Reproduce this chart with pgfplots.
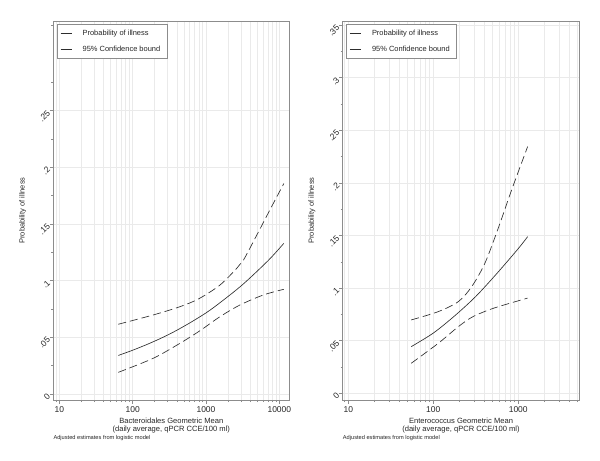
\documentclass[border=0pt]{standalone}
\usepackage{fontspec}
\setmainfont{Liberation Sans}
\usepackage{pgfplots}
\pgfplotsset{compat=1.18}
\definecolor{framegray}{RGB}{140,140,140}
\definecolor{gridgray}{RGB}{234,234,234}
\definecolor{curve}{RGB}{45,45,45}

\pgfplotsset{
 panel/.style={
  scale only axis,
  height=379bp,
  axis line style={framegray, line width=0.6bp},
  every tick/.style={framegray, line width=0.5bp},
  tick align=outside, xtick pos=bottom, ytick pos=left,
  major tick length=3.5bp, minor tick length=2bp,
  xmajorgrids, xminorgrids, ymajorgrids,
  major grid style={gridgray, line width=0.5bp},
  minor grid style={gridgray, line width=0.5bp},
  /pgf/number format/assume math mode=true,
  xtick={10,100,1000,10000},
  xticklabels={10,100,1000,10000},
  xticklabel style={font=\fontsize{8.5}{10}\selectfont, inner sep=0pt, yshift=-3bp, text=black!85},
  yticklabel style={font=\fontsize{8.5}{10}\selectfont, rotate=45, anchor=east, inner sep=1.5bp, text=black!85},
  xlabel style={font=\fontsize{7.6}{8}\selectfont, align=center, at={(axis description cs:0.5,0)}, anchor=north, yshift=-18bp, inner sep=0pt, text=black!85},
  ylabel style={font=\fontsize{7.5}{9}\selectfont, at={(axis description cs:0,0.5)}, anchor=south, yshift=27bp, inner sep=0pt, text=black!85},
  ylabel={Probability of illness},
  legend style={at={(0,1)}, anchor=north west, xshift=3.4bp, yshift=-3.3bp,
    draw=framegray, line width=0.5bp, fill=white,
    font=\fontsize{7.5}{9}\selectfont, text=black!85,
    inner xsep=3.3bp, inner ysep=5.3bp, row sep=8.9bp,
    nodes={inner sep=0pt, text height=5.5bp, text depth=1.6bp},
    /tikz/every odd column/.append style={column sep=10.7bp}},
  legend cell align=left,
  legend image code/.code={\draw[#1,solid] (0bp,0bp) -- (11bp,0bp);},
  clip=false,
 },
 est/.style={curve, line width=0.65bp, smooth},
 ci/.style={curve, line width=0.65bp, smooth, dash pattern=on 8bp off 4bp},
}

\begin{document}
\begin{tikzpicture}
\useasboundingbox (0,0) rectangle (600bp,-461bp);

\begin{semilogxaxis}[panel,
  at={(53.3bp,-21bp)}, anchor=north west, width=236bp,
  xmin=8.28, xmax=13680, ymin=-0.0053, ymax=0.3289,
  minor xtick={9,20,30,40,50,60,70,80,90,200,300,400,500,600,700,800,900,2000,3000,4000,5000,6000,7000,8000,9000},
  ytick={0,0.05,0.1,0.15,0.2,0.25},
  yticklabels={0,.05,.1,.15,.2,.25},
  minor ytick={0.025,0.075,0.125,0.175,0.225,0.275,0.325},
  xlabel={Bacteroidales Geometric Mean\\(daily average, qPCR CCE/100 ml)},
]
\addplot[est] coordinates {(63.7,0.0340) (100,0.0386) (178,0.0452) (316,0.0527) (560,0.0615) (1000,0.0715) (1553,0.0805) (3162,0.0965) (7080,0.1178) (11500,0.1328)};
\addlegendentry{\makebox[81bp][l]{Probability of illness}}
\addplot[ci] coordinates {(63.7,0.0615) (191,0.0697) (442,0.0770) (800,0.0840) (1553,0.0961) (2624,0.1108) (3236,0.1180) (4917,0.1400) (7463,0.1625) (11500,0.1855)};
\addlegendentry{\makebox[81bp][l]{95\% Confidence bound}}
\addplot[ci] coordinates {(63.7,0.0191) (191,0.0315) (442,0.0447) (828,0.0558) (1553,0.0682) (2910,0.0785) (6050,0.0873) (11500,0.0923)};
\node[anchor=west, font=\fontsize{5.7}{7}\selectfont, inner sep=0pt, text=black!85, yshift=-38.3bp] at (rel axis cs:0,0) {Adjusted estimates from logistic model};
\end{semilogxaxis}

\begin{semilogxaxis}[panel,
  at={(342.7bp,-21bp)}, anchor=north west, width=236.6bp,
  xmin=8.6, xmax=5230, ymin=-0.0064, ymax=0.3539,
  minor xtick={9,20,30,40,50,60,70,80,90,200,300,400,500,600,700,800,900,2000,3000,4000,5000},
  ytick={0,0.05,0.1,0.15,0.2,0.25,0.3,0.35},
  yticklabels={0,.05,.1,.15,.2,.25,.3,.35},
  minor ytick={0.025,0.075,0.125,0.175,0.225,0.275,0.325},
  xlabel={Enterococcus Geometric Mean\\(daily average, qPCR CCE/100 ml)},
]
\addplot[est] coordinates {(55,0.0443) (100,0.0572) (178,0.0735) (316,0.0920) (562,0.1140) (1000,0.1375) (1290,0.1489)};
\addlegendentry{\makebox[81bp][l]{Probability of illness}}
\addplot[ci] coordinates {(55,0.0697) (114.5,0.0776) (197,0.0871) (283,0.1013) (405,0.1236) (582,0.1570) (836,0.1933) (1290,0.2345)};
\addlegendentry{\makebox[81bp][l]{95\% Confidence bound}}
\addplot[ci] coordinates {(55,0.0285) (114.5,0.0475) (197,0.0633) (283,0.0722) (405,0.0778) (582,0.0823) (1290,0.0905)};
\node[anchor=west, font=\fontsize{5.7}{7}\selectfont, inner sep=0pt, text=black!85, yshift=-38.3bp] at (rel axis cs:0,0) {Adjusted estimates from logistic model};
\end{semilogxaxis}
\end{tikzpicture}
\end{document}
